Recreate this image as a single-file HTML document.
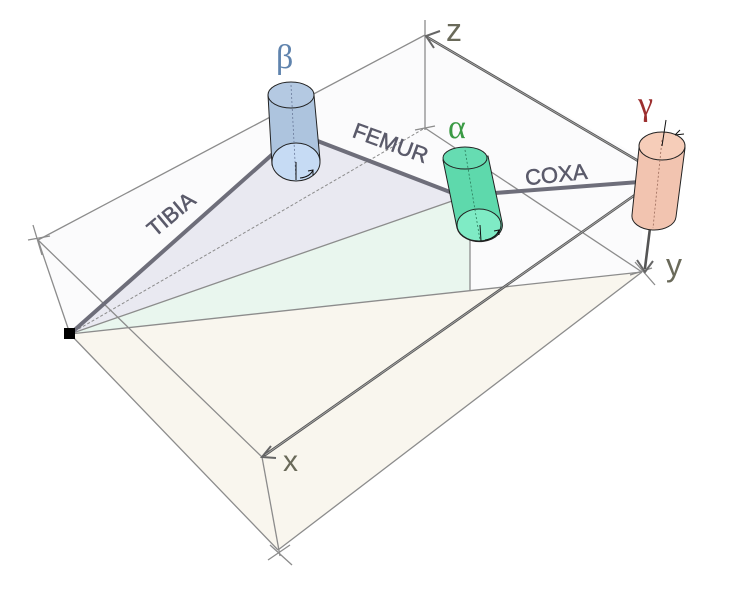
<!DOCTYPE html>
<html><head><meta charset="utf-8"><style>
html,body{margin:0;padding:0;background:#fff;}
svg{display:block;}
</style></head><body>
<svg width="740" height="589" viewBox="0 0 740 589" xmlns="http://www.w3.org/2000/svg">
<polygon points="38,240 425,35 642,158 642,272 278,550 70,334" fill="#fbfbfc"/>
<polygon points="70,334 642,272 278,550" fill="#f9f6ee"/>
<polygon points="70,334 455,200 470,240 470,290" fill="#e9f6ee"/>
<polygon points="70,334 272,152 300,160 318,140 455,192 455,200" fill="#e9e9f1"/>
<g stroke="#8c8c8c" stroke-width="1.3" fill="none">
<line x1="38" y1="240" x2="425" y2="35"/>
<line x1="38" y1="240" x2="70" y2="334"/>
<line x1="38" y1="240" x2="262" y2="457"/>
<line x1="70" y1="334" x2="278" y2="550"/>
<line x1="262" y1="457" x2="280" y2="556"/>
<line x1="278" y1="550" x2="642" y2="272"/>
<line x1="70" y1="334" x2="642" y2="272"/>
<line x1="425" y1="20" x2="425" y2="130"/>
<line x1="425" y1="128" x2="642" y2="272"/>
<line x1="70" y1="334" x2="455" y2="200"/>
<line x1="470" y1="240" x2="470" y2="290"/>
<line x1="70" y1="334" x2="425" y2="128" stroke-dasharray="3,2" stroke-width="1"/>
<line x1="28" y1="240" x2="50" y2="236"/><line x1="33" y1="225" x2="42" y2="255"/>
<line x1="415" y1="130" x2="435" y2="126"/>
<line x1="268" y1="560" x2="290" y2="545"/><line x1="270" y1="545" x2="292" y2="565"/>
<line x1="630" y1="275" x2="652" y2="268"/><line x1="635" y1="262" x2="655" y2="285"/>
</g>
<g stroke="#555" stroke-width="2.6" fill="none" stroke-linecap="round">
<line x1="640" y1="162" x2="427" y2="37"/>
<line x1="642" y1="190" x2="265" y2="455"/>
<line x1="650" y1="228" x2="645" y2="268"/>
</g>
<g stroke="#aaa" stroke-width="0.9" fill="none">
<line x1="640" y1="162" x2="427" y2="37"/>
<line x1="642" y1="190" x2="265" y2="455"/>
</g>
<g stroke="#666" stroke-width="2" fill="none">
<polyline points="440,31 426,36 434,48"/>
<polyline points="271,446 262,457 276,458"/>
<polyline points="637,260 645,272 653,261"/>
</g>
<g stroke="#6e6e7a" stroke-width="4" stroke-linecap="round">
<line x1="70" y1="334" x2="275" y2="152"/>
<line x1="315" y1="140" x2="450" y2="192"/>
<line x1="495" y1="193" x2="640" y2="182"/>
</g>
<rect x="64" y="328" width="11" height="11" fill="#000"/>
<path d="M268,95 L272,165 A25,19 0 0 0 320,160 L314,95 Z" fill="#adc4de" stroke="#222" stroke-width="1"/>
<ellipse cx="291" cy="95" rx="23" ry="13" fill="#b4c9e2" stroke="#222" stroke-width="1"/>
<ellipse cx="296" cy="162" rx="24" ry="19" fill="#c6dbf4" stroke="#222" stroke-width="1"/>
<line x1="291" y1="85" x2="296" y2="180" stroke="#6a7a9a" stroke-dasharray="2,2" stroke-width="0.8"/>
<path d="M296,162 L296,180 M300,178 Q310,177 313,170 M308,171 L313,170 L313,175" stroke="#111" fill="none" stroke-width="1"/>
<path d="M443,160 L457,228 A22,16 0 0 0 502,222 L488,156 Z" fill="#5ed9ac" stroke="#222" stroke-width="1"/>
<ellipse cx="465" cy="158" rx="22" ry="11" fill="#66dcb2" stroke="#222" stroke-width="1"/>
<ellipse cx="479" cy="225" rx="22" ry="16" fill="#7febc5" stroke="#222" stroke-width="1"/>
<line x1="465" y1="150" x2="480" y2="240" stroke="#2a7a5a" stroke-dasharray="2,2" stroke-width="0.8"/>
<path d="M480,225 L481,241 M485,240 Q496,238 499,230 M494,231 L499,230 L499,235" stroke="#111" fill="none" stroke-width="1"/>
<path d="M639,148 L632,215 A22,14 0 0 0 676,217 L685,148 Z" fill="#f2c4b0" stroke="#222" stroke-width="1"/>
<ellipse cx="662" cy="146" rx="23" ry="14" fill="#f6cdb9" stroke="#222" stroke-width="1"/>
<line x1="662" y1="140" x2="653" y2="228" stroke="#9a6a5a" stroke-dasharray="2,2" stroke-width="0.8"/>
<path d="M666,120 L662,146 M675,135 L684,134 M675,135 L680,130" stroke="#111" fill="none" stroke-width="1"/>
<g font-family="Liberation Serif, serif">
<text x="276" y="68" font-size="34" fill="#5f83ad">β</text>
<text x="448" y="138" font-size="34" fill="#3a9a44">α</text>
<text x="638" y="115" font-size="34" fill="#9c2f2f">γ</text>
</g>
<g font-family="Liberation Sans, sans-serif" fill="#6a6a5a" font-size="32">
<text x="446" y="41">z</text>
<text x="666" y="276">y</text>
<text x="283" y="471" font-size="30">x</text>
</g>
<g font-family="Liberation Sans, sans-serif" fill="#5a5a6a" font-size="22" text-anchor="middle" stroke="#5a5a6a" stroke-width="0.5">
<text transform="translate(176,220) rotate(-40)">TIBIA</text>
<text transform="translate(388,150) rotate(20)">FEMUR</text>
<text transform="translate(557,182) rotate(-6)">COXA</text>
</g>
</svg>
</body></html>
